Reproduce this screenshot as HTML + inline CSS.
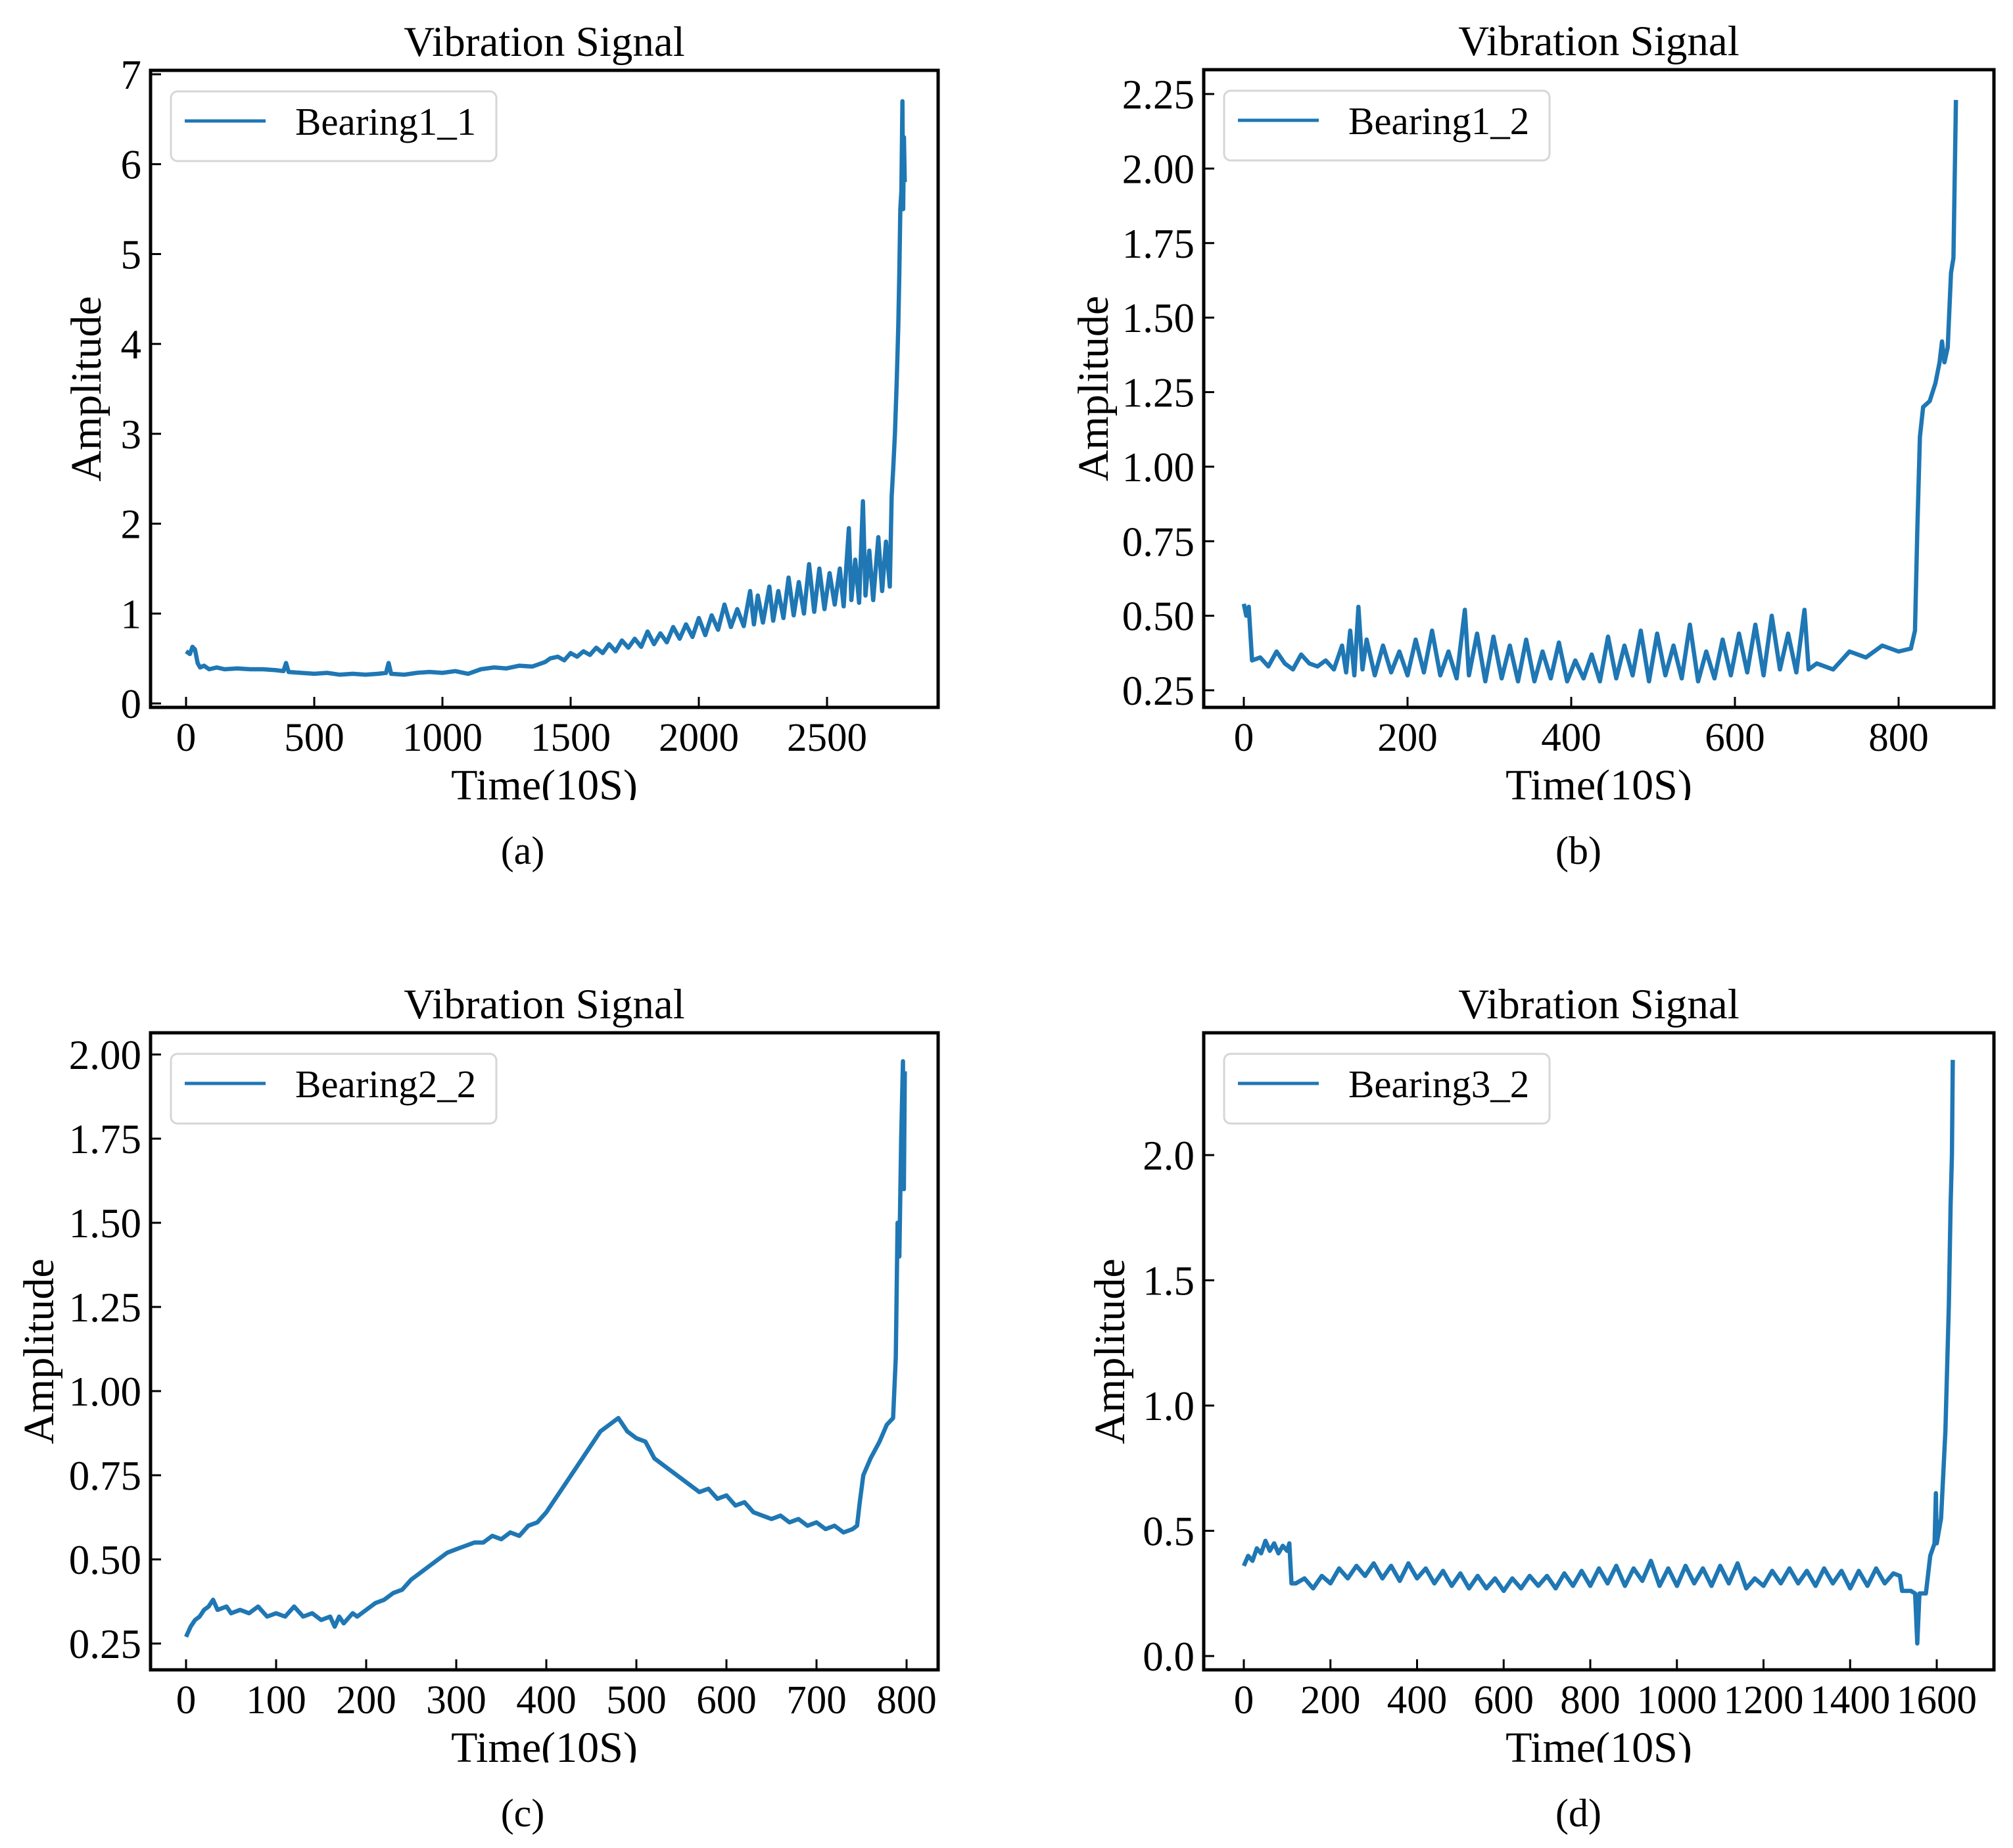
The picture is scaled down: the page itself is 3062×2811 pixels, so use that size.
<!DOCTYPE html>
<html><head><meta charset="utf-8"><style>
html,body{margin:0;padding:0;background:#fff;}
svg{display:block;}
text{font-family:"Liberation Serif",serif;fill:#000;}
</style></head><body>
<svg id="fig" width="3062" height="2811" viewBox="0 0 3062 2811" xmlns="http://www.w3.org/2000/svg"></svg>
<script>
// ---- Panel (a) Bearing1_1 ----
const timeA = [0,15,25,35,45,55,70,90,120,150,200,250,300,350,380,390,400,450,500,550,600,650,700,750,780,790,800,850,900,950,1000,1050,1100,1150,1200,1250,1300,1350,1400,1420,1450,1475,1500,1525,1550,1575,1600,1625,1650,1675,1700,1725,1750,1775,1800,1825,1850,1875,1900,1925,1950,1975,2000,2025,2050,2075,2100,2125,2150,2175,2200,2215,2230,2250,2275,2290,2310,2330,2350,2370,2390,2410,2430,2450,2470,2490,2510,2530,2550,2565,2585,2595,2610,2625,2640,2650,2665,2680,2700,2715,2730,2745,2752,2758,2765,2772,2778,2782,2786,2790,2794,2797,2800,2803];
const ampA = [.58,.55,.63,.60,.45,.40,.42,.38,.40,.38,.39,.38,.38,.37,.36,.45,.35,.34,.33,.34,.32,.33,.32,.33,.34,.45,.33,.32,.34,.35,.34,.36,.33,.38,.40,.39,.42,.41,.46,.50,.52,.48,.56,.52,.58,.54,.62,.56,.66,.58,.70,.62,.72,.63,.80,.66,.78,.68,.85,.72,.88,.74,.95,.76,.98,.82,1.10,.85,1.05,.86,1.25,.88,1.20,.90,1.30,.92,1.25,.95,1.40,.98,1.35,1.00,1.55,1.02,1.50,1.05,1.45,1.10,1.50,1.08,1.95,1.15,1.60,1.12,2.25,1.20,1.70,1.15,1.85,1.25,1.80,1.30,2.3,2.6,3.0,3.6,4.2,4.8,5.5,5.7,6.7,5.5,6.3,5.8];
const yTicksA = [0,1,2,3,4,5,6,7];
const yLabelsA = ["0","1","2","3","4","5","6","7"];
const xTicksA = [0,500,1000,1500,2000,2500];
const xLabelsA = ["0","500","1000","1500","2000","2500"];

// ---- Panel (b) Bearing1_2 ----
const timeB = [0,3,6,10,20,30,40,50,60,70,80,90,100,110,120,125,130,135,140,145,150,160,170,180,190,200,210,220,230,240,250,260,270,275,285,295,305,315,325,335,345,355,365,375,385,395,405,415,425,435,445,455,465,475,485,495,505,515,525,535,545,555,565,575,585,595,605,615,625,635,645,655,665,675,685,690,700,720,740,760,780,800,815,820,823,826,830,838,845,850,853,856,860,864,867,870];
const ampB = [.54,.50,.53,.35,.36,.33,.38,.34,.32,.37,.34,.33,.35,.32,.40,.31,.45,.30,.53,.32,.42,.30,.40,.31,.38,.30,.42,.31,.45,.30,.38,.29,.52,.30,.44,.28,.43,.29,.40,.28,.42,.28,.38,.29,.41,.28,.35,.29,.37,.28,.43,.29,.40,.30,.45,.28,.44,.30,.40,.29,.47,.28,.38,.29,.42,.30,.44,.31,.47,.30,.50,.32,.44,.31,.52,.32,.34,.32,.38,.36,.40,.38,.39,.45,.80,1.10,1.20,1.22,1.28,1.35,1.42,1.35,1.40,1.65,1.70,2.23];
const yTicksB = [0.25,0.5,0.75,1.0,1.25,1.5,1.75,2.0,2.25];
const yLabelsB = ["0.25","0.50","0.75","1.00","1.25","1.50","1.75","2.00","2.25"];
const xTicksB = [0,200,400,600,800];
const xLabelsB = ["0","200","400","600","800"];

// ---- Panel (c) Bearing2_2 ----
const timeC = [0,5,10,15,20,25,30,35,45,50,60,70,80,90,100,110,120,130,140,150,160,165,170,175,185,190,200,210,220,230,240,250,260,270,280,290,300,310,320,330,340,350,360,370,380,390,400,410,420,430,440,450,460,470,480,490,500,510,520,530,540,550,560,570,580,590,600,610,620,630,640,650,660,670,680,690,700,710,720,730,740,745,748,752,760,770,778,785,788,790,792,794,796,797,798];
const ampC = [.27,.30,.32,.33,.35,.36,.38,.35,.36,.34,.35,.34,.36,.33,.34,.33,.36,.33,.34,.32,.33,.30,.33,.31,.34,.33,.35,.37,.38,.40,.41,.44,.46,.48,.50,.52,.53,.54,.55,.55,.57,.56,.58,.57,.60,.61,.64,.68,.72,.76,.80,.84,.88,.90,.92,.88,.86,.85,.80,.78,.76,.74,.72,.70,.71,.68,.69,.66,.67,.64,.63,.62,.63,.61,.62,.60,.61,.59,.60,.58,.59,.60,.67,.75,.80,.85,.90,.92,1.10,1.50,1.40,1.75,1.98,1.60,1.95];
const yTicksC = [0.25,0.5,0.75,1.0,1.25,1.5,1.75,2.0];
const yLabelsC = ["0.25","0.50","0.75","1.00","1.25","1.50","1.75","2.00"];
const xTicksC = [0,100,200,300,400,500,600,700,800];
const xLabelsC = ["0","100","200","300","400","500","600","700","800"];

// ---- Panel (d) Bearing3_2 ----
const timeD = [0,10,20,30,40,50,60,70,80,90,100,105,110,120,140,160,180,200,220,240,260,280,300,320,340,360,380,400,420,440,460,480,500,520,540,560,580,600,620,640,660,680,700,720,740,760,780,800,820,840,860,880,900,920,940,960,980,1000,1020,1040,1060,1080,1100,1120,1140,1160,1180,1200,1220,1240,1260,1280,1300,1320,1340,1360,1380,1400,1420,1440,1460,1480,1500,1515,1520,1540,1550,1555,1560,1575,1585,1595,1598,1600,1610,1620,1628,1632,1635,1637];
const ampD = [.36,.40,.38,.43,.41,.46,.42,.45,.41,.44,.42,.45,.29,.29,.31,.27,.32,.29,.35,.31,.36,.32,.37,.31,.36,.30,.37,.31,.35,.29,.34,.28,.33,.27,.32,.27,.31,.26,.31,.27,.32,.28,.32,.27,.33,.28,.34,.28,.35,.29,.36,.28,.35,.30,.38,.28,.35,.28,.36,.29,.35,.28,.36,.29,.37,.27,.31,.28,.34,.29,.35,.29,.34,.28,.35,.29,.34,.27,.34,.28,.35,.29,.33,.32,.26,.26,.25,.05,.25,.25,.40,.45,.65,.45,.55,.90,1.40,1.80,2.00,2.38];
const yTicksD = [0,0.5,1.0,1.5,2.0];
const yLabelsD = ["0.0","0.5","1.0","1.5","2.0"];
const xTicksD = [0,200,400,600,800,1000,1200,1400,1600];
const xLabelsD = ["0","200","400","600","800","1000","1200","1400","1600"];

const NS = "http://www.w3.org/2000/svg";
const fig = document.getElementById('fig');
function mk(tag, attrs, parent){
  const e = document.createElementNS(NS, tag);
  for (const k in attrs) e.setAttribute(k, attrs[k]);
  (parent||fig).appendChild(e);
  return e;
}
function linMap(v1,p1,v2,p2){ return v => p1 + (v - v1) * (p2 - p1) / (v2 - v1); }

function panel(cfg){
  const {L,T,R,B,xs,ys,times,amps,yT,yL,xT,xL,name,cap,ampX,capX,key} = cfg;
  const g = mk('g', {});
  
  
  const cx = (L+R)/2;
  const title = mk('text', {x:cx, y:T-22, 'font-size':65, 'text-anchor':'middle'}, g);
  title.textContent = 'Vibration Signal';
  
  
  const cpId = 'clip-' + key;
  const cp = mk('clipPath', {id:cpId}, g);
  mk('rect', {x:L, y:T, width:R-L, height:B-T}, cp);
  let d = '';
  for (let i=0;i<times.length;i++){
    d += (i? 'L':'M') + xs(times[i]).toFixed(1) + ',' + ys(amps[i]).toFixed(1);
  }
  const line = mk('path', {d:d, fill:'none', stroke:'#1f77b4', 'stroke-width':6.5, 'stroke-linejoin':'round', 'clip-path':'url(#'+cpId+')'}, g);
  
  
  for (let i=0;i<yT.length;i++){
    const y = ys(yT[i]);
    const tk = mk('line', {x1:L, x2:L+16, y1:y, y2:y, stroke:'#000', 'stroke-width':3}, g);
    
    
    const t = mk('text', {x:L-14, y:y+22, 'font-size':63, 'text-anchor':'end'}, g);
    t.textContent = yL[i];
    
    
  }
  for (let i=0;i<xT.length;i++){
    const x = xs(xT[i]);
    const tk = mk('line', {x1:x, x2:x, y1:B, y2:B-16, stroke:'#000', 'stroke-width':3}, g);
    
    
    const t = mk('text', {x:x, y:B+66, 'font-size':61, 'text-anchor':'middle'}, g);
    t.textContent = xL[i];
    
    
  }
  const fr = mk('rect', {x:L, y:T, width:R-L, height:B-T, fill:'none', stroke:'#000', 'stroke-width':5}, g);
  
  
  const lg = mk('g', {}, g);
  
  
  mk('rect', {x:L+31, y:T+32, width:495, height:106, rx:10, fill:'#fff', stroke:'#d6d6d6', 'stroke-width':3}, lg);
  const ls = mk('line', {x1:L+52, x2:L+175, y1:T+77, y2:T+77, stroke:'#1f77b4', 'stroke-width':5}, lg);
  
  
  const lt = mk('text', {x:L+220, y:T+98, 'font-size':59}, lg);
  lt.textContent = name;
  
  
  const ya = mk('text', {x:0, y:0, 'font-size':66, 'text-anchor':'middle', transform:'translate('+(ampX+22)+','+((T+B)/2)+') rotate(-90)'}, g);
  ya.textContent = 'Amplitude';
  
  
  const cpx = 'clipx-' + key;
  const cp2 = mk('clipPath', {id:cpx}, g);
  mk('rect', {x:L-200, y:B+60, width:R-L+400, height:81}, cp2);
  const xa = mk('text', {x:cx, y:B+140, 'font-size':66, 'text-anchor':'middle', 'clip-path':'url(#'+cpx+')'}, g);
  xa.textContent = 'Time(10S)';
  
  
  const c = mk('text', {x:capX, y:B+238, 'font-size':60, 'text-anchor':'middle'}, g);
  c.textContent = cap;
  
  
}

panel({key:'a', L:229,T:107,R:1427,B:1076, xs:linMap(0,283,500,478), ys:linMap(0,1070,7,113),
  times:timeA, amps:ampA, yT:yTicksA, yL:yLabelsA, xT:xTicksA, xL:xLabelsA, name:'Bearing1_1', cap:'(a)', ampX:131, capX:795});
panel({key:'b', L:1831,T:106,R:3033,B:1076, xs:linMap(0,1892,800,2888), ys:linMap(2.25,143,0.25,1050),
  times:timeB, amps:ampB, yT:yTicksB, yL:yLabelsB, xT:xTicksB, xL:xLabelsB, name:'Bearing1_2', cap:'(b)', ampX:1663, capX:2401});
panel({key:'c', L:229,T:1571,R:1427,B:2540, xs:linMap(0,283,100,420), ys:linMap(2.0,1604,0.25,2500),
  times:timeC, amps:ampC, yT:yTicksC, yL:yLabelsC, xT:xTicksC, xL:xLabelsC, name:'Bearing2_2', cap:'(c)', ampX:59, capX:795});
panel({key:'d', L:1831,T:1571,R:3033,B:2540, xs:linMap(0,1892,1600,2946), ys:linMap(2.0,1757,0.0,2519),
  times:timeD, amps:ampD, yT:yTicksD, yL:yLabelsD, xT:xTicksD, xL:xLabelsD, name:'Bearing3_2', cap:'(d)', ampX:1688, capX:2401});
</script>
</body></html>
